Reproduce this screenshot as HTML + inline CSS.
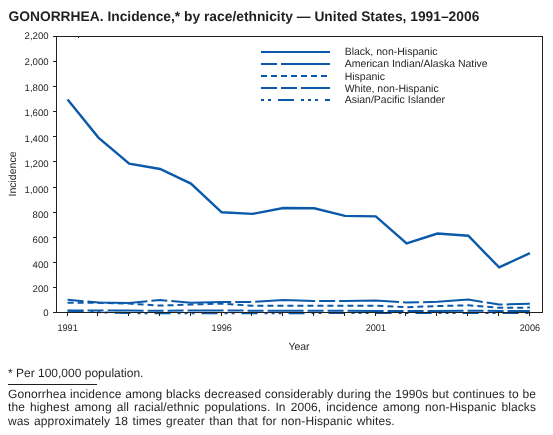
<!DOCTYPE html>
<html><head><meta charset="utf-8"><style>
html,body{margin:0;padding:0;background:#fff;}
body{width:553px;height:435px;position:relative;overflow:hidden;will-change:transform;text-rendering:geometricPrecision;font-family:"Liberation Sans",sans-serif;color:#231f20;}
.title{position:absolute;left:8.5px;top:9.3px;font-size:13.8px;font-weight:bold;white-space:nowrap;line-height:16px;}
.fn{position:absolute;left:8px;top:365.7px;font-size:12px;line-height:14px;white-space:nowrap;}
.rule{position:absolute;left:8px;top:384px;width:89px;height:1px;background:#231f20;}
.para{position:absolute;left:8px;top:388px;width:528px;font-size:12px;line-height:13.4px;letter-spacing:0.1px;}
.para div{text-align:justify;text-align-last:justify;white-space:nowrap;}
.para div.l{text-align-last:left;word-spacing:1px;}
</style></head><body>
<svg width="553" height="435" viewBox="0 0 553 435" text-rendering="geometricPrecision" style="position:absolute;left:0;top:0">
<g font-family="Liberation Sans, sans-serif" font-size="9.6" fill="#231f20" text-anchor="end">
<text transform="translate(48.6,315.6) scale(1,1)">0</text>
<text transform="translate(48.6,291.8) scale(1,1)">200</text>
<text transform="translate(48.6,267.8) scale(1,1)">400</text>
<text transform="translate(48.6,243.0) scale(1,1)">600</text>
<text transform="translate(48.6,218.4) scale(1,1)">800</text>
<text transform="translate(48.6,193.0) scale(1,1)">1,000</text>
<text transform="translate(48.6,167.2) scale(1,1)">1,200</text>
<text transform="translate(48.6,141.8) scale(1,1)">1,400</text>
<text transform="translate(48.6,116.0) scale(1,1)">1,600</text>
<text transform="translate(48.6,90.5) scale(1,1)">1,800</text>
<text transform="translate(48.6,65.0) scale(1,1)">2,000</text>
<text transform="translate(48.6,39.0) scale(1,1)">2,200</text>
</g>
<g font-family="Liberation Sans, sans-serif" font-size="9.6" fill="#231f20" text-anchor="middle">
<text transform="translate(67.6,331) scale(0.95,1)">1991</text>
<text transform="translate(221.7,331) scale(0.95,1)">1996</text>
<text transform="translate(375.8,331) scale(0.95,1)">2001</text>
<text transform="translate(529.9,331) scale(0.95,1)">2006</text>
</g>
<text x="299" y="350" font-family="Liberation Sans, sans-serif" font-size="10.5" fill="#231f20" text-anchor="middle">Year</text>
<text transform="translate(15.6,174) rotate(-90)" font-family="Liberation Sans, sans-serif" font-size="10.5" fill="#231f20" text-anchor="middle">Incidence</text>
<g fill="none" stroke="#0b59a9" stroke-width="2" stroke-linejoin="miter">
<polyline points="67.6,99.6 98.4,137.6 129.2,163.6 160.1,169.0 190.9,183.6 221.7,212.3 252.5,213.9 283.3,208.0 314.2,208.3 345.0,215.9 375.8,216.4 406.6,243.5 437.4,233.5 468.3,235.7 499.1,267.4 529.9,253.2" stroke-width="2.4"/>
<polyline points="67.6,299.7 98.4,302.5 129.2,303.0 160.1,300.0 190.9,302.7 221.7,302.0 252.5,302.0 283.3,300.0 314.2,301.0 345.0,301.0 375.8,300.6 406.6,302.6 437.4,301.8 468.3,299.6 499.1,304.6 529.9,303.8" stroke-dasharray="16 4 60 4"/>
<polyline points="67.6,302.8 98.4,302.8 129.2,303.6 160.1,305.6 190.9,304.6 221.7,303.5 252.5,305.8 283.3,305.8 314.2,305.7 345.0,305.7 375.8,305.7 406.6,307.2 437.4,306.1 468.3,305.3 499.1,307.8 529.9,307.6" stroke-dasharray="6 4"/>
<polyline points="67.6,310.4 98.4,310.5 129.2,310.6 160.1,310.7 190.9,310.5 221.7,310.4 252.5,310.7 283.3,310.8 314.2,310.8 345.0,310.8 375.8,310.9 406.6,311.0 437.4,310.9 468.3,310.8 499.1,310.9 529.9,310.9" stroke-dasharray="16 4 16 4 36 4"/>
<polyline points="67.6,310.8 98.4,312.3 129.2,313.1 160.1,313.2 190.9,313.2 221.7,313.2 252.5,313.2 283.3,313.2 314.2,313.1 345.0,313.1 375.8,313.0 406.6,313.0 437.4,313.0 468.3,313.0 499.1,313.1 529.9,313.1" stroke-dasharray="3 4 3 7 16 7 3 4 3 4 3 7 16 7" stroke-dashoffset="17"/>
<line x1="261" y1="52" x2="330" y2="52"/>
<line x1="261" y1="64" x2="330" y2="64" stroke-dasharray="16 4 60 4"/>
<line x1="261" y1="76" x2="330" y2="76" stroke-dasharray="6 4"/>
<line x1="261" y1="88" x2="330" y2="88" stroke-dasharray="16 4 16 4 36 4"/>
<line x1="261" y1="100" x2="330" y2="100" stroke-dasharray="3 4 3 7 16 7 3 4 3 4 3 7 16 7"/>
</g>
<g font-family="Liberation Sans, sans-serif" font-size="10.5" fill="#231f20">
<text x="344.7" y="54.5">Black, non-Hispanic</text>
<text x="344.7" y="66.5">American Indian/Alaska Native</text>
<text x="344.7" y="79.5">Hispanic</text>
<text x="344.7" y="91.5">White, non-Hispanic</text>
<text x="344.7" y="103.3">Asian/Pacific Islander</text>
</g>
<g stroke="#231f20" stroke-width="1" fill="none" shape-rendering="crispEdges">
<rect x="56.5" y="36.5" width="486" height="276"/>
<line x1="53" y1="312.5" x2="57" y2="312.5"/>
<line x1="53" y1="287.5" x2="57" y2="287.5"/>
<line x1="53" y1="262.5" x2="57" y2="262.5"/>
<line x1="53" y1="237.5" x2="57" y2="237.5"/>
<line x1="53" y1="212.5" x2="57" y2="212.5"/>
<line x1="53" y1="187.5" x2="57" y2="187.5"/>
<line x1="53" y1="161.5" x2="57" y2="161.5"/>
<line x1="53" y1="136.5" x2="57" y2="136.5"/>
<line x1="53" y1="111.5" x2="57" y2="111.5"/>
<line x1="53" y1="86.5" x2="57" y2="86.5"/>
<line x1="53" y1="61.5" x2="57" y2="61.5"/>
<line x1="53" y1="36.5" x2="57" y2="36.5"/>
<line x1="67.5" y1="312" x2="67.5" y2="316"/>
<line x1="97.5" y1="312" x2="97.5" y2="316"/>
<line x1="128.5" y1="312" x2="128.5" y2="316"/>
<line x1="159.5" y1="312" x2="159.5" y2="316"/>
<line x1="190.5" y1="312" x2="190.5" y2="316"/>
<line x1="221.5" y1="312" x2="221.5" y2="316"/>
<line x1="251.5" y1="312" x2="251.5" y2="316"/>
<line x1="282.5" y1="312" x2="282.5" y2="316"/>
<line x1="313.5" y1="312" x2="313.5" y2="316"/>
<line x1="344.5" y1="312" x2="344.5" y2="316"/>
<line x1="375.5" y1="312" x2="375.5" y2="316"/>
<line x1="405.5" y1="312" x2="405.5" y2="316"/>
<line x1="436.5" y1="312" x2="436.5" y2="316"/>
<line x1="467.5" y1="312" x2="467.5" y2="316"/>
<line x1="498.5" y1="312" x2="498.5" y2="316"/>
<line x1="529.5" y1="312" x2="529.5" y2="316"/>
<line x1="78.5" y1="36" x2="78.5" y2="38"/>
</g>
</svg>
<div class="title">GONORRHEA. Incidence,* by race/ethnicity — United States, 1991–2006</div>
<div class="fn">* Per 100,000 population.</div>
<div class="rule"></div>
<div class="para"><div>Gonorrhea incidence among blacks decreased considerably during the 1990s but continues to be</div><div>the highest among all racial/ethnic populations. In 2006, incidence among non-Hispanic blacks</div><div class="l">was approximately 18 times greater than that for non-Hispanic whites.</div></div>
</body></html>
